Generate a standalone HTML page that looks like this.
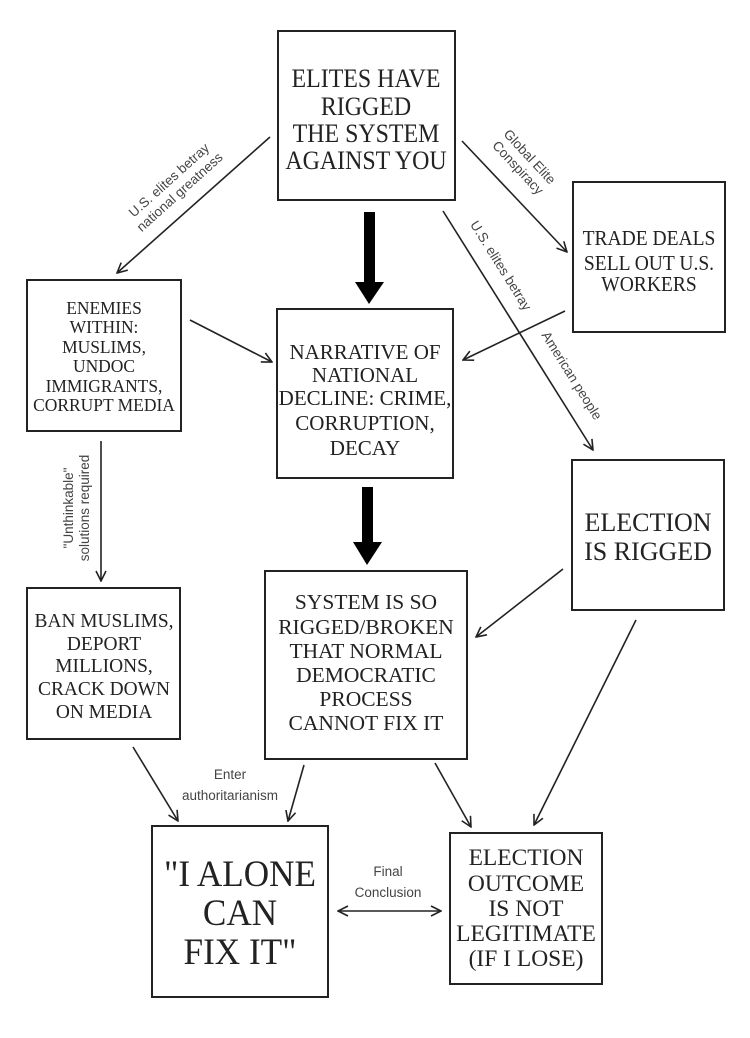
<!DOCTYPE html>
<html><head><meta charset="utf-8"><style>
html,body{margin:0;padding:0;background:#fff;}
svg{display:block}
.b{fill:#fff;stroke:#222;stroke-width:2}
.t{font-family:"Liberation Serif",serif;fill:#222;text-anchor:middle}
.s{font-family:"Liberation Sans",sans-serif;fill:#444;font-size:13.5px;text-anchor:middle}
.l{stroke:#222;stroke-width:1.6;fill:none}
</style></head><body>
<svg width="750" height="1038" viewBox="0 0 750 1038">
<defs>
<marker id="a" viewBox="0 0 12 12" refX="11" refY="6" markerWidth="12" markerHeight="12" markerUnits="userSpaceOnUse" orient="auto-start-reverse">
<path d="M1,1 L11,6 L1,11" fill="none" stroke="#222" stroke-width="1.6"/>
</marker>
</defs>
<!-- boxes -->
<rect class="b" x="278" y="31" width="177" height="169"/>
<rect class="b" x="573" y="182" width="152" height="150"/>
<rect class="b" x="27" y="280" width="154" height="151"/>
<rect class="b" x="277" y="309" width="176" height="169"/>
<rect class="b" x="572" y="460" width="152" height="150"/>
<rect class="b" x="27" y="588" width="153" height="151"/>
<rect class="b" x="265" y="571" width="202" height="188"/>
<rect class="b" x="152" y="826" width="176" height="171"/>
<rect class="b" x="450" y="833" width="152" height="151"/>
<!-- texts -->
<g class="t" font-size="26" transform="translate(366,0) scale(0.92,1)">
<text x="0" y="87">ELITES HAVE</text>
<text x="0" y="115">RIGGED</text>
<text x="0" y="142">THE SYSTEM</text>
<text x="0" y="169">AGAINST YOU</text>
</g>
<g class="t" font-size="21" transform="translate(649,0) scale(0.93,1)">
<text x="0" y="245">TRADE DEALS</text>
<text x="0" y="270">SELL OUT U.S.</text>
<text x="0" y="291">WORKERS</text>
</g>
<g class="t" font-size="18" transform="translate(104,0) scale(0.97,1)">
<text x="0" y="314">ENEMIES</text>
<text x="0" y="333">WITHIN:</text>
<text x="0" y="353">MUSLIMS,</text>
<text x="0" y="372">UNDOC</text>
<text x="0" y="392">IMMIGRANTS,</text>
<text x="0" y="411">CORRUPT MEDIA</text>
</g>
<g class="t" font-size="21">
<text x="365" y="359">NARRATIVE OF</text>
<text x="365" y="382">NATIONAL</text>
<text x="365" y="405">DECLINE: CRIME,</text>
<text x="365" y="430">CORRUPTION,</text>
<text x="365" y="455">DECAY</text>
</g>
<g class="t" font-size="26">
<text x="648" y="531">ELECTION</text>
<text x="648" y="560">IS RIGGED</text>
</g>
<g class="t" font-size="20" transform="translate(104,0) scale(0.97,1)">
<text x="0" y="627">BAN MUSLIMS,</text>
<text x="0" y="650">DEPORT</text>
<text x="0" y="672">MILLIONS,</text>
<text x="0" y="695">CRACK DOWN</text>
<text x="0" y="718">ON MEDIA</text>
</g>
<g class="t" font-size="21.5">
<text x="366" y="609">SYSTEM IS SO</text>
<text x="366" y="634">RIGGED/BROKEN</text>
<text x="366" y="658">THAT NORMAL</text>
<text x="366" y="682">DEMOCRATIC</text>
<text x="366" y="706">PROCESS</text>
<text x="366" y="730">CANNOT FIX IT</text>
</g>
<g class="t" font-size="37" transform="translate(240,0) scale(0.95,1)">
<text x="0" y="886">"I ALONE</text>
<text x="0" y="925">CAN</text>
<text x="0" y="964">FIX IT"</text>
</g>
<g class="t" font-size="23.5">
<text x="526" y="865">ELECTION</text>
<text x="526" y="891">OUTCOME</text>
<text x="526" y="916">IS NOT</text>
<text x="526" y="941">LEGITIMATE</text>
<text x="526" y="966">(IF I LOSE)</text>
</g>
<!-- thick arrows -->
<rect x="364" y="212" width="11" height="72" fill="#000"/>
<path d="M355,282 L384,282 L369,304 Z" fill="#000"/>
<rect x="362" y="487" width="11" height="57" fill="#000"/>
<path d="M353,542 L382,542 L367,565 Z" fill="#000"/>
<!-- thin arrows -->
<line class="l" x1="270" y1="137" x2="117" y2="273" marker-end="url(#a)"/>
<line class="l" x1="462" y1="141" x2="567" y2="252" marker-end="url(#a)"/>
<line class="l" x1="443" y1="211" x2="593" y2="450" marker-end="url(#a)"/>
<line class="l" x1="190" y1="320" x2="272" y2="362" marker-end="url(#a)"/>
<line class="l" x1="565" y1="311" x2="463" y2="360" marker-end="url(#a)"/>
<line class="l" x1="101" y1="441" x2="101" y2="581" marker-end="url(#a)"/>
<line class="l" x1="563" y1="569" x2="476" y2="637" marker-end="url(#a)"/>
<line class="l" x1="636" y1="620" x2="534" y2="825" marker-end="url(#a)"/>
<line class="l" x1="133" y1="747" x2="178" y2="821" marker-end="url(#a)"/>
<line class="l" x1="304" y1="765" x2="288" y2="821" marker-end="url(#a)"/>
<line class="l" x1="435" y1="763" x2="471" y2="827" marker-end="url(#a)"/>
<line class="l" x1="338" y1="911" x2="441" y2="911" marker-start="url(#a)" marker-end="url(#a)"/>
<!-- labels -->
<g transform="translate(176,188) rotate(-42)">
<text class="s" x="0" y="-6">U.S. elites betray</text>
<text class="s" x="0" y="10">national greatness</text>
</g>
<g transform="translate(522,164) rotate(47)">
<text class="s" x="0" y="-6">Global Elite</text>
<text class="s" x="0" y="10">Conspiracy</text>
</g>
<g transform="translate(497,268) rotate(58)">
<text class="s" x="0" y="0">U.S. elites betray</text>
</g>
<g transform="translate(568,378) rotate(58)">
<text class="s" x="0" y="0">American people</text>
</g>
<g transform="translate(78,508) rotate(-90)">
<text class="s" x="0" y="-5">"Unthinkable"</text>
<text class="s" x="0" y="11">solutions required</text>
</g>
<text class="s" x="230" y="779">Enter</text>
<text class="s" x="230" y="800">authoritarianism</text>
<text class="s" x="388" y="876">Final</text>
<text class="s" x="388" y="897">Conclusion</text>
</svg>
</body></html>
